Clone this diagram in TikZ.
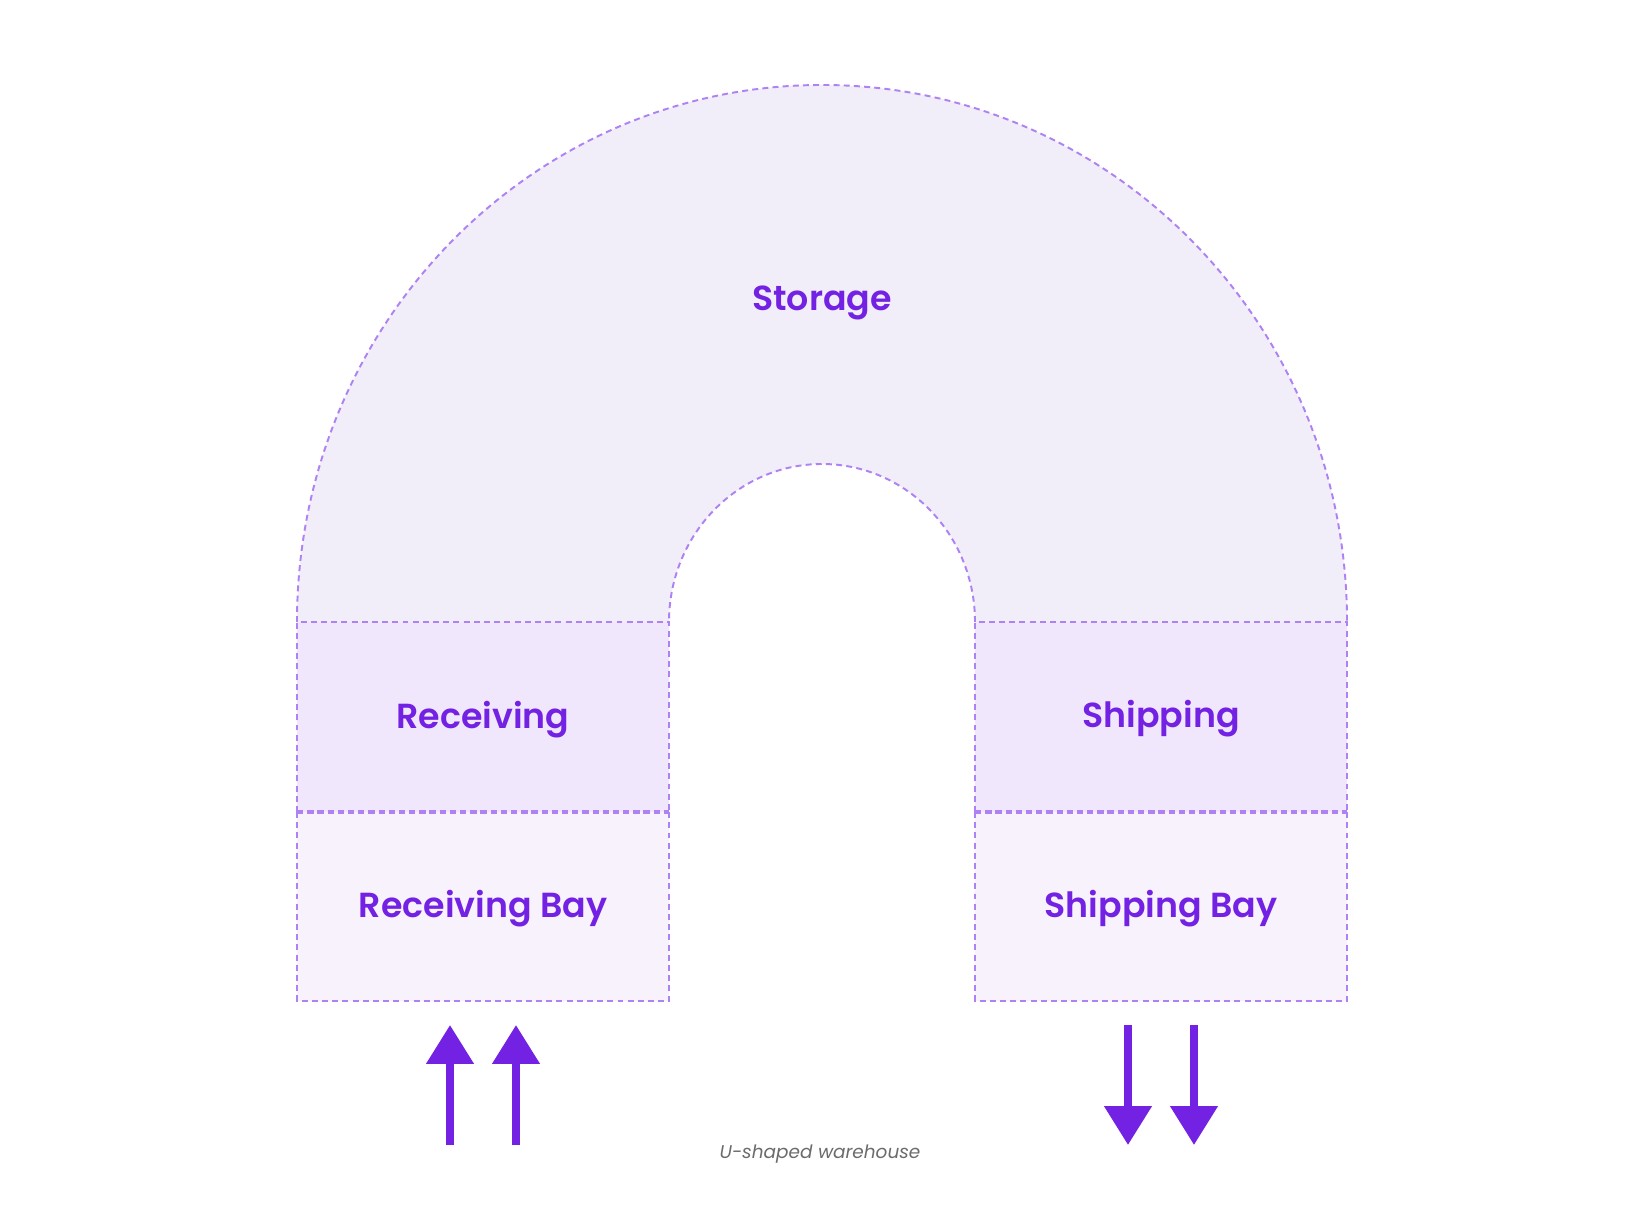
\documentclass[tikz,border=0pt]{standalone}
\usepackage{fontspec}
\setmainfont{Poppins}[BoldFont={Poppins SemiBold}]
\usetikzlibrary{arrows.meta}

\definecolor{zonetext}{HTML}{7322E3}
\definecolor{zoneline}{HTML}{AE82F3}
\definecolor{storefill}{HTML}{F1EEF9}
\definecolor{dockfill}{HTML}{F1E7FC}
\definecolor{bayfill}{HTML}{F8F2FD}
\definecolor{notegray}{HTML}{6B6B6B}

\tikzset{
  zone/.style={draw=zoneline, line width=1.1pt, dash pattern=on 3.4pt off 2.4pt},
  divider/.style={draw=zoneline, line width=2.3pt, dash pattern=on 3.6pt off 2.2pt},
  zonelabel/.style={anchor=base, text=zonetext, font=\bfseries\fontsize{19.8}{22}\selectfont},
  flow/.style={draw=zonetext, line width=0.16cm, -{Triangle[length=0.78cm,width=0.92cm]}},
}

\begin{document}
\begin{tikzpicture}[x=0.02cm,y=0.02cm]
			\useasboundingbox (0,0) rectangle (1640,1204);
			\fill[white] (0,0) rectangle (1640,1204);
			% storage ring
			\fill[storefill] (297,582) arc[start angle=180, end angle=0, x radius=525, y radius=537]
				-- (975,582) arc[start angle=0, end angle=180, x radius=153, y radius=158] -- cycle;
			\draw[zone] (297,582) arc[start angle=180, end angle=0, x radius=525, y radius=537];
			\draw[zone] (975,582) arc[start angle=0, end angle=180, x radius=153, y radius=158];
			% docks and bays
			\fill[dockfill] (297,582) rectangle (669,392);
			\fill[bayfill] (297,392) rectangle (669,203);
			\fill[dockfill] (975,582) rectangle (1347,392);
			\fill[bayfill] (975,392) rectangle (1347,203);
			\draw[zone] (297,392) -- (297,582) -- (669,582) -- (669,392);
			\draw[zone] (297,392) -- (297,203) -- (669,203) -- (669,392);
			\draw[zone] (975,392) -- (975,582) -- (1347,582) -- (1347,392);
			\draw[zone] (975,392) -- (975,203) -- (1347,203) -- (1347,392);
			\draw[divider] (297,392) -- (669,392);
			\draw[divider] (975,392) -- (1347,392);
			% zone names
			\node[zonelabel] (storage) at (822,893) {Storage};
			\node[zonelabel] (receiving) at (483,475) {Receiving};
			\node[zonelabel] (recbay) at (483,286) {Receiving Bay};
			\node[zonelabel] (shipping) at (1161,476) {Shipping};
			\node[zonelabel] (shipbay) at (1161,286) {Shipping Bay};
			% goods in and out
			\coordinate (inA) at (450,59);  \coordinate (inAtop) at (450,179);
			\coordinate (inB) at (516,59);  \coordinate (inBtop) at (516,179);
			\coordinate (outA) at (1128,179); \coordinate (outAend) at (1128,59);
			\coordinate (outB) at (1194,179); \coordinate (outBend) at (1194,59);
			\draw[flow] (inA) -- (inAtop);
			\draw[flow] (inB) -- (inBtop);
			\draw[flow] (outA) -- (outAend);
			\draw[flow] (outB) -- (outBend);
			% caption
			\node[anchor=base, text=notegray, font=\itshape\fontsize{10.5}{12}\selectfont] (caption) at (820,46) {U-shaped warehouse};
		\end{tikzpicture}
\end{document}
